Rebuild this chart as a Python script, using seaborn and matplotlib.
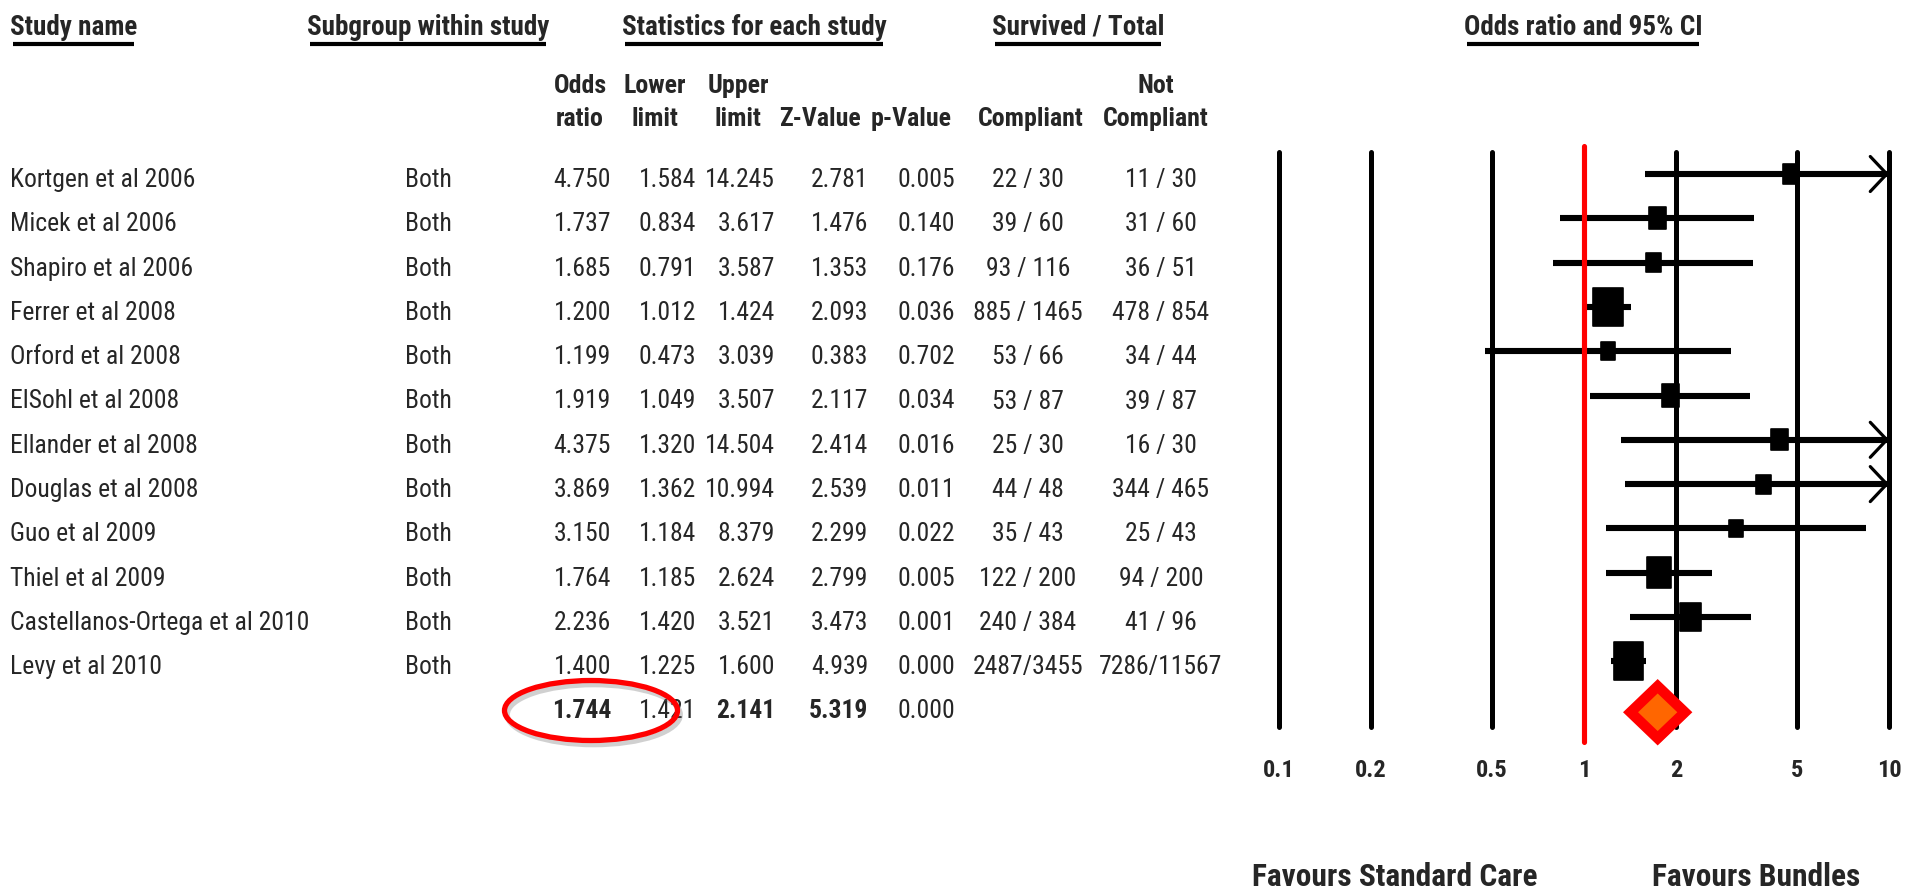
import matplotlib
matplotlib.use("Agg")
import matplotlib.pyplot as plt
from matplotlib import font_manager, patheffects
from matplotlib.font_manager import FontProperties
from matplotlib.patches import Ellipse, Polygon
from matplotlib.path import Path
from matplotlib.lines import Line2D
from matplotlib.transforms import blended_transform_factory
from matplotlib.ticker import NullLocator
import numpy as np
import pandas as pd
import seaborn as sns

# ---------------------------------------------------------------- data
studies = ["Kortgen et al 2006", "Micek et al 2006", "Shapiro et al 2006",
           "Ferrer et al 2008", "Orford et al 2008", "ElSohl et al 2008",
           "Ellander et al 2008", "Douglas et al 2008", "Guo et al 2009",
           "Thiel et al 2009", "Castellanos-Ortega et al 2010", "Levy et al 2010"]
subgroup = ["Both"] * 12
odds_ratio = [4.750, 1.737, 1.685, 1.200, 1.199, 1.919, 4.375, 3.869, 3.150, 1.764, 2.236, 1.400]
lower_limit = [1.584, 0.834, 0.791, 1.012, 0.473, 1.049, 1.320, 1.362, 1.184, 1.185, 1.420, 1.225]
upper_limit = [14.245, 3.617, 3.587, 1.424, 3.039, 3.507, 14.504, 10.994, 8.379, 2.624, 3.521, 1.600]
z_value = [2.781, 1.476, 1.353, 2.093, 0.383, 2.117, 2.414, 2.539, 2.299, 2.799, 3.473, 4.939]
p_value = [0.005, 0.140, 0.176, 0.036, 0.702, 0.034, 0.016, 0.011, 0.022, 0.005, 0.001, 0.000]
survived_compliant = ["22 / 30", "39 / 60", "93 / 116", "885 / 1465", "53 / 66", "53 / 87",
                      "25 / 30", "44 / 48", "35 / 43", "122 / 200", "240 / 384", "2487/3455"]
survived_not_compliant = ["11 / 30", "31 / 60", "36 / 51", "478 / 854", "34 / 44", "39 / 87",
                          "16 / 30", "344 / 465", "25 / 43", "94 / 200", "41 / 96", "7286/11567"]
relative_weight = [4.7, 6.1, 4.7, 18.7, 4.2, 6.5, 5.5, 4.7, 3.9, 12.5, 9.9, 18.7]

pooled_or = 1.744
pooled_lower = 1.421
pooled_upper = 2.141
pooled_z = 5.319
pooled_p = 0.000

axis_ticks = [0.1, 0.2, 0.5, 1, 2, 5, 10]
axis_tick_labels = ["0.1", "0.2", "0.5", "1", "2", "5", "10"]

# ---------------------------------------------------------------- fonts
sns.set_theme(style="white")
entries = font_manager.fontManager.ttflist


def weight_of(f):
    w = f.weight
    if isinstance(w, str):
        return font_manager.weight_dict.get(w, 400)
    return int(w)


def stretch_of(f):
    s = f.stretch
    if isinstance(s, str):
        return font_manager.stretch_dict.get(s, 500)
    return int(s)


def regular_and_bold(group):
    group = [f for f in group if f.style == "normal"]
    regs = [f for f in group if 350 <= weight_of(f) <= 450]
    bolds = [f for f in group if weight_of(f) >= 600]
    if regs and bolds:
        reg = min(regs, key=lambda f: abs(weight_of(f) - 400))
        bold = min(bolds, key=lambda f: abs(weight_of(f) - 700))
        return reg, bold
    return None


# narrow faces first, then condensed widths of the installed sans families
choice = None
for name in ["Liberation Sans Narrow", "Arial Narrow", "Roboto Condensed",
             "Open Sans Condensed", "Noto Sans Condensed", "DejaVu Sans Condensed"]:
    choice = regular_and_bold([f for f in entries if f.name == name])
    if choice:
        break
if choice is None:
    for base in ["Noto Sans", "Open Sans", "Roboto", "DejaVu Sans"]:
        for lim in (300, 400):
            choice = regular_and_bold([f for f in entries if f.name == base
                                       and stretch_of(f) == lim])
            if choice:
                break
        if choice:
            break
if choice is None:
    choice = regular_and_bold([f for f in entries if f.name == "Liberation Sans"])

FP_REG = FontProperties(fname=choice[0].fname)
FP_BOLD = FontProperties(fname=choice[1].fname)
plt.rcParams["font.family"] = [choice[0].name, "DejaVu Sans"]

W, H = 1907, 891
fig = plt.figure(figsize=(W / 100, H / 100), dpi=100)
fig.patch.set_facecolor("white")

# size the table font so a study label spans its column width
probe = fig.text(0, 0, "Kortgen et al 2006", fontproperties=FP_REG, fontsize=20)
fig.canvas.draw()
K = 185.0 / probe.get_window_extent(fig.canvas.get_renderer()).width
probe.remove()
FS = 20 * K          # table body
FS_H = 21.2 * K      # group headings
FS_C = 20.2 * K      # column headings
FS_T = 19.0 * K      # axis tick labels
FS_F = 24.5 * K      # favours labels


def fx(px):
    return px / W


def fy(py):
    return 1 - py / H


def fp(bold):
    return FP_BOLD if bold else FP_REG


ROW0, ROW_H = 174.0, 44.3          # first row centre and row pitch (pixels)
PLOT_TOP, PLOT_BOTTOM = 152.0, 727.0
PLOT_LEFT, PLOT_RIGHT = 1279.0, 1889.0

ax = fig.add_axes([fx(PLOT_LEFT), fy(PLOT_BOTTOM),
                   (PLOT_RIGHT - PLOT_LEFT) / W, (PLOT_BOTTOM - PLOT_TOP) / H])
ax.set_facecolor("none")
ax.set_xscale("log")
ax.set_xlim(axis_ticks[0], axis_ticks[-1])
ax.set_ylim((PLOT_BOTTOM - ROW0) / ROW_H, (PLOT_TOP - ROW0) / ROW_H)
for s in ax.spines.values():
    s.set_visible(False)
ax.set_yticks([])
ax.grid(False)

rows = np.arange(len(studies))
SUMMARY_ROW = 12.15

# reference lines
for t in axis_ticks:
    if t != 1:
        ax.axvline(t, color="black", lw=3.6, clip_on=False, zorder=1)

# confidence intervals
upper_drawn = np.minimum(upper_limit, axis_ticks[-1])
ci = ax.hlines(rows, lower_limit, upper_drawn, color="black", lw=4.4, zorder=2)
ci.set_capstyle("butt")
for r, u in zip(rows, upper_limit):
    if u > axis_ticks[-1]:
        ax.annotate("", xy=(axis_ticks[-1], r), xytext=(6.5, r),
                    arrowprops=dict(arrowstyle="->,head_length=0.85,head_width=0.9",
                                    lw=2.3, color="black", shrinkA=0, shrinkB=0,
                                    mutation_scale=14),
                    annotation_clip=False, zorder=2)

# study boxes (area proportional to weight)
box = Path([(-0.39, -0.5), (0.39, -0.5), (0.39, 0.5), (-0.39, 0.5), (-0.39, -0.5)],
           [Path.MOVETO, Path.LINETO, Path.LINETO, Path.LINETO, Path.CLOSEPOLY])
df = pd.DataFrame({"study": studies, "odds_ratio": odds_ratio, "row": rows,
                   "weight": relative_weight})
AREA_PER_WEIGHT = 40.0
wmin, wmax = min(relative_weight), max(relative_weight)
sns.scatterplot(data=df, x="odds_ratio", y="row", size="weight",
                sizes=(AREA_PER_WEIGHT * wmin, AREA_PER_WEIGHT * wmax),
                size_norm=(wmin, wmax), marker=box, color="black",
                edgecolor="black", linewidth=1.2, legend=False, ax=ax, zorder=3)
ax.set_xlabel("")
ax.set_ylabel("")

# line of no effect
ax.axvline(1, ymin=-0.026, ymax=1.0105, color="#ff0000", lw=3.7, clip_on=False, zorder=4)

# pooled estimate
half_h = 26.0 / ROW_H
diamond = Polygon([(pooled_lower, SUMMARY_ROW), (pooled_or, SUMMARY_ROW - half_h),
                   (pooled_upper, SUMMARY_ROW), (pooled_or, SUMMARY_ROW + half_h)],
                  closed=True, facecolor="#ff6600", edgecolor="#ff0000", lw=7.5,
                  joinstyle="miter", clip_on=False, zorder=5)
diamond.set_path_effects([patheffects.SimplePatchShadow(offset=(2, -3), shadow_rgbFace="0.4", alpha=0.35),
                          patheffects.Normal()])
ax.add_patch(diamond)

# log axis labels
ax.set_xticks(axis_ticks, axis_tick_labels, fontproperties=FP_BOLD, fontsize=FS_T)
ax.xaxis.set_minor_locator(NullLocator())
ax.tick_params(axis="x", length=0, pad=23)

# favours labels
fig.text(fx(1395), fy(886), "Favours Standard Care", ha="center", va="baseline",
         fontproperties=FP_BOLD, fontsize=FS_F)
fig.text(fx(1756), fy(886), "Favours Bundles", ha="center", va="baseline",
         fontproperties=FP_BOLD, fontsize=FS_F)

# ---------------------------------------------------------------- table
row_tr = blended_transform_factory(fig.transFigure, ax.transData)
BASE = 13.0 / ROW_H   # baseline offset below row centre

COL_STUDY = 10
COL_SUB = 428
COL_OR, COL_LL, COL_UL, COL_Z, COL_P = 611, 696, 775, 868, 955
COL_C, COL_NC = 1028, 1161


def cell(px, r, s, ha, bold=False):
    fig.text(fx(px), r + BASE, s, transform=row_tr, ha=ha, va="baseline",
             fontproperties=fp(bold), fontsize=FS)


for i in rows:
    cell(COL_STUDY, i, studies[i], "left")
    cell(COL_SUB, i, subgroup[i], "center")
    cell(COL_OR, i, f"{odds_ratio[i]:.3f}", "right")
    cell(COL_LL, i, f"{lower_limit[i]:.3f}", "right")
    cell(COL_UL, i, f"{upper_limit[i]:.3f}", "right")
    cell(COL_Z, i, f"{z_value[i]:.3f}", "right")
    cell(COL_P, i, f"{p_value[i]:.3f}", "right")
    cell(COL_C, i, survived_compliant[i], "center")
    cell(COL_NC, i, survived_not_compliant[i], "center")

sr = SUMMARY_ROW - 0.17
cell(COL_OR, sr, f"{pooled_or:.3f}", "right", bold=True)
cell(COL_LL, sr, f"{pooled_lower:.3f}", "right")
cell(COL_UL, sr, f"{pooled_upper:.3f}", "right", bold=True)
cell(COL_Z, sr, f"{pooled_z:.3f}", "right", bold=True)
cell(COL_P, sr, f"{pooled_p:.3f}", "right")

# group headings with underline
fig.canvas.draw()
renderer = fig.canvas.get_renderer()
headings = [("Study name", 10, "left"), ("Subgroup within study", 428, "center"),
            ("Statistics for each study", 754, "center"), ("Survived / Total", 1078, "center"),
            ("Odds ratio and 95% CI", 1583, "center")]
for txt, px, ha in headings:
    t = fig.text(fx(px), fy(35), txt, ha=ha, va="baseline", fontproperties=FP_BOLD,
                 fontsize=FS_H)
    bb = t.get_window_extent(renderer)
    x0, x1 = bb.x0 + 3, bb.x1 - 3
    fig.add_artist(Line2D([x0 / W, x1 / W], [fy(44), fy(44)], transform=fig.transFigure,
                          color="black", lw=3.0, solid_capstyle="butt"))

# column headings
col_heads = [(580, "Odds", "ratio"), (655, "Lower", "limit"), (738, "Upper", "limit"),
             (820, None, "Z-Value"), (911, None, "p-Value"), (1031, None, "Compliant"),
             (1156, "Not", "Compliant")]
for px, l1, l2 in col_heads:
    if l1:
        fig.text(fx(px), fy(93), l1, ha="center", va="baseline", fontproperties=FP_BOLD,
                 fontsize=FS_C)
    fig.text(fx(px), fy(126), l2, ha="center", va="baseline", fontproperties=FP_BOLD,
             fontsize=FS_C)

# highlight of the pooled odds ratio
ring = Ellipse((fx(591), fy(710.5)), 173 / W, 60 / H, transform=fig.transFigure,
               fill=False, edgecolor="#ff0000", lw=3.8, zorder=6)
ring.set_path_effects([patheffects.SimpleLineShadow(offset=(2, -3), shadow_color="0.4", alpha=0.3),
                       patheffects.Normal()])
fig.add_artist(ring)

fig.savefig("out.png", dpi=100, facecolor="white")
